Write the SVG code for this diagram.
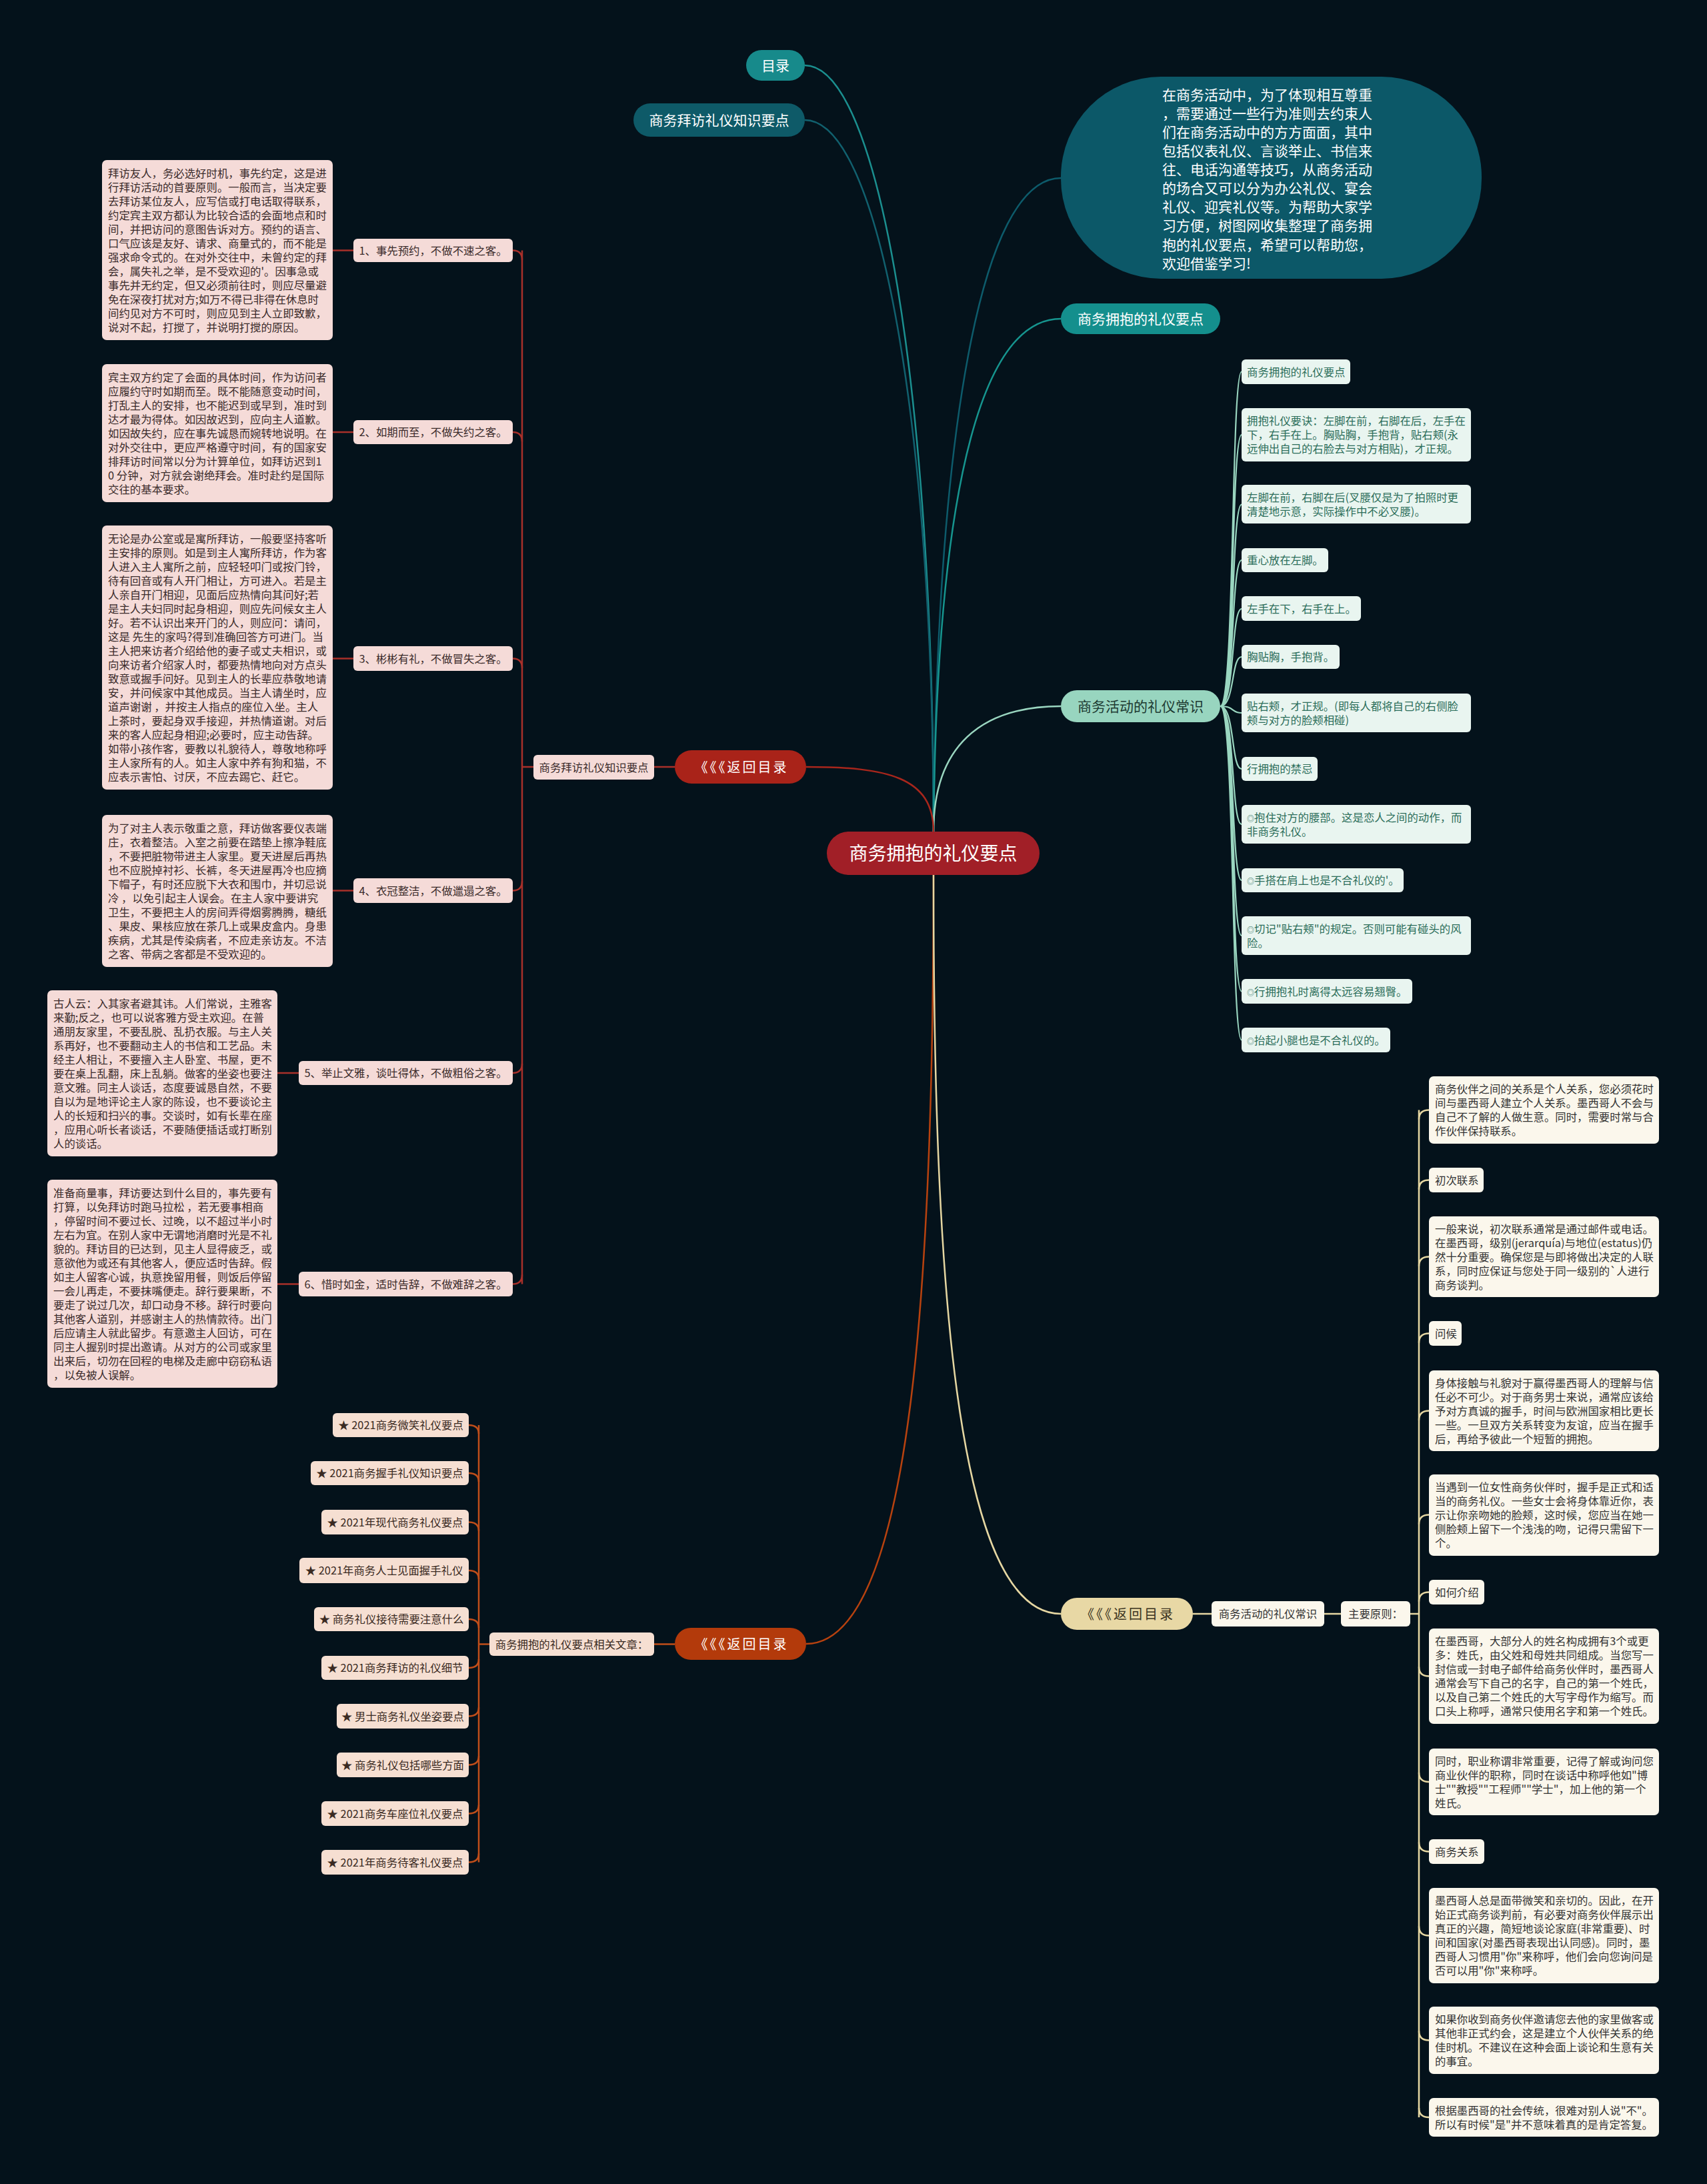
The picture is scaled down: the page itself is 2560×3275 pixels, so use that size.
<svg xmlns="http://www.w3.org/2000/svg" width="2560" height="3275" viewBox="0 0 2560 3275">
<style>
text{font-family:"Noto Sans CJK SC","Noto Sans",sans-serif}
.c{text-anchor:middle}
.pk{fill:#f5dbd8}
.pt{font-size:16.4px;fill:#3b2b2b}
.mk{fill:#e9f5f0}
.mt{font-size:16.4px;fill:#2c6e5a}
.ck{fill:#fbf7ec}
.ct{font-size:16.4px;fill:#333}
.ok{fill:#f6dfd2}
.ot{font-size:16.4px;fill:#3a2a22}
.lr{fill:none;stroke:#a8302a;stroke-width:2.5}
.lo{fill:none;stroke:#c04e1a;stroke-width:2.5}
.lm{fill:none;stroke:#9ad6c0;stroke-width:2.2}
.lc{fill:none;stroke:#e6d7a2;stroke-width:2.5}
.sm{font-size:11px}
.bk{font-size:20px;letter-spacing:3px}
</style>
<rect width="2560" height="3275" fill="#04121b"/>

<g id="connectors">
<path d="M1400,1247 C1400,600 1320,98 1207,98" fill="none" stroke="#1b8f8f" stroke-width="2.5"/>
<path d="M1400,1247 C1400,650 1320,180 1207,180" fill="none" stroke="#11606e" stroke-width="2.5"/>
<path d="M1400,1247 C1405,650 1470,267 1591,267" fill="none" stroke="#0d5b6b" stroke-width="2.5"/>
<path d="M1400,1247 C1405,700 1480,478 1591,478" fill="none" stroke="#16958f" stroke-width="2.5"/>
<path d="M1400,1247 C1400,1120 1470,1059 1591,1059" fill="none" stroke="#9ad6c0" stroke-width="2.5"/>
<path d="M1400,1247 C1400,1165 1330,1150 1209,1150" fill="none" stroke="#a8261c" stroke-width="2.5"/>
<path d="M1400,1312 C1400,1900 1370,2465 1209,2465" fill="none" stroke="#b8420f" stroke-width="2.5"/>
<path d="M1400,1312 C1400,1900 1430,2420 1591,2420" fill="none" stroke="#e6d7a2" stroke-width="2.5"/>

<path class="lr" d="M1012,1150 L981,1150 M800,1150 L783,1150 M783,375.5 L783,1925.5"/>
<path class="lr" d="M783,389.5 Q783,375.5 769,375.5 M783,662 Q783,648 769,648 M783,1001.5 Q783,987.5 769,987.5 M783,1321.5 Q783,1335.5 769,1335.5 M783,1595 Q783,1609 769,1609 M783,1911.5 Q783,1925.5 769,1925.5"/>
<path class="lr" d="M499,375.5 L530,375.5 M499,648 L530,648 M499,987.5 L530,987.5 M499,1335.5 L530,1335.5 M416,1609 L448,1609 M416,1925.5 L448,1925.5"/>

<path class="lo" d="M1012,2465.5 L981,2465.5 M734,2465.5 L718,2465.5 M718,2137 L718,2792.5"/>
<path class="lo" d="M718,2150 Q718,2137 703,2137 M718,2222 Q718,2209 703,2209 M718,2295.5 Q718,2282.5 703,2282.5 M718,2368 Q718,2355 703,2355 M718,2441 Q718,2428 703,2428 M718,2488 Q718,2501 703,2501 M718,2560.5 Q718,2573.5 703,2573.5 M718,2633.5 Q718,2646.5 703,2646.5 M718,2706.5 Q718,2719.5 703,2719.5 M718,2779.5 Q718,2792.5 703,2792.5"/>

<path class="lm" d="M1830,1059 C1852,1059 1846,557.5 1862,557.5 M1830,1059 C1852,1059 1846,652 1862,652 M1830,1059 C1852,1059 1846,756.5 1862,756.5 M1830,1059 C1852,1059 1846,840 1862,840 M1830,1059 C1852,1059 1846,913 1862,913 M1830,1059 C1852,1059 1846,985 1862,985 M1830,1059 C1852,1059 1846,1069 1862,1069 M1830,1059 C1852,1059 1846,1153 1862,1153 M1830,1059 C1852,1059 1846,1236 1862,1236 M1830,1059 C1852,1059 1846,1320 1862,1320 M1830,1059 C1852,1059 1846,1403 1862,1403 M1830,1059 C1852,1059 1846,1486.5 1862,1486.5 M1830,1059 C1852,1059 1846,1559.5 1862,1559.5"/>

<path class="lc" d="M1789,2420 L1817,2420 M1986,2420 L2011,2420 M2115,2420 L2128,2420 M2128,1664.5 L2128,3175"/>
<path class="lc" d="M2128,1678.5 Q2128,1664.5 2143,1664.5 M2128,1783.5 Q2128,1769.5 2143,1769.5 M2128,1898.5 Q2128,1884.5 2143,1884.5 M2128,2013.5 Q2128,1999.5 2143,1999.5 M2128,2129.5 Q2128,2115.5 2143,2115.5 M2128,2285.5 Q2128,2271.5 2143,2271.5 M2128,2401.5 Q2128,2387.5 2143,2387.5 M2128,2499.5 Q2128,2513.5 2143,2513.5 M2128,2658 Q2128,2672 2143,2672 M2128,2762.5 Q2128,2776.5 2143,2776.5 M2128,2888.5 Q2128,2902.5 2143,2902.5 M2128,3045.5 Q2128,3059.5 2143,3059.5 M2128,3161 Q2128,3175 2143,3175"/>
</g>

<g id="center"><rect x="1240" y="1247" width="319" height="65" rx="32.5" fill="#a11f27"/><text x="1399.5" y="1290" class="c" font-size="28" fill="#fff">商务拥抱的礼仪要点</text></g>

<g id="mulu"><rect x="1119" y="75" width="88" height="46" rx="23" fill="#178a8b"/><text x="1163" y="106" class="c" font-size="21" fill="#fff">目录</text></g>
<g id="top-baifang"><rect x="950" y="155" width="257" height="50" rx="25" fill="#0e5a68"/><text x="1078.5" y="188" class="c" font-size="21" fill="#fff">商务拜访礼仪知识要点</text></g>
<g id="intro"><rect x="1591" y="115" width="631" height="303" rx="150" fill="#0c5868"/>
<text x="1743" y="149.7" font-size="21" fill="#fff">在商务活动中，为了体现相互尊重<tspan x="1743" dy="28.1">，需要通过一些行为准则去约束人</tspan><tspan x="1743" dy="28.1">们在商务活动中的方方面面，其中</tspan><tspan x="1743" dy="28.1">包括仪表礼仪、言谈举止、书信来</tspan><tspan x="1743" dy="28.1">往、电话沟通等技巧，从商务活动</tspan><tspan x="1743" dy="28.1">的场合又可以分为办公礼仪、宴会</tspan><tspan x="1743" dy="28.1">礼仪、迎宾礼仪等。为帮助大家学</tspan><tspan x="1743" dy="28.1">习方便，树图网收集整理了商务拥</tspan><tspan x="1743" dy="28.1">抱的礼仪要点，希望可以帮助您，</tspan><tspan x="1743" dy="28.1">欢迎借鉴学习!</tspan></text></g>
<g id="hug-l1"><rect x="1591" y="455" width="239" height="46" rx="23" fill="#148f8d"/><text x="1710.5" y="486" class="c" font-size="21" fill="#fff">商务拥抱的礼仪要点</text></g>
<g id="changshi"><rect x="1591" y="1035" width="239" height="48" rx="24" fill="#98d5bf"/><text x="1710.5" y="1067" class="c" font-size="21" fill="#1d3a32">商务活动的礼仪常识</text></g>

<g id="back-red"><rect x="1012" y="1125" width="197" height="50" rx="25" fill="#a92319"/><text x="1112" y="1157.6" class="c bk" fill="#fff">《《《返回目录</text></g>
<g id="back-orange"><rect x="1012" y="2441" width="197" height="48" rx="24" fill="#b33a0b"/><text x="1112" y="2472.6" class="c bk" fill="#fff">《《《返回目录</text></g>
<g id="back-yellow"><rect x="1591" y="2396" width="198" height="48" rx="24" fill="#e8d8a5"/><text x="1691.5" y="2427.6" class="c bk" fill="#3a3320">《《《返回目录</text></g>

<g id="baifang-small"><rect class="pk" x="800" y="1132" width="181" height="37" rx="6"/><text class="pt c" x="890.5" y="1156.7">商务拜访礼仪知识要点</text></g>
<g id="label1"><rect class="pk" x="530" y="358" width="239" height="35" rx="6"/><text class="pt c" x="649.5" y="381.7">1、事先预约，不做不速之客。</text></g>
<g id="label2"><rect class="pk" x="530" y="630" width="239" height="36" rx="6"/><text class="pt c" x="649.5" y="654.2">2、如期而至，不做失约之客。</text></g>
<g id="label3"><rect class="pk" x="530" y="969" width="239" height="37" rx="6"/><text class="pt c" x="649.5" y="993.7">3、彬彬有礼，不做冒失之客。</text></g>
<g id="label4"><rect class="pk" x="530" y="1317" width="239" height="37" rx="6"/><text class="pt c" x="649.5" y="1341.7">4、衣冠整洁，不做邋遢之客。</text></g>
<g id="label5"><rect class="pk" x="448" y="1591" width="321" height="36" rx="6"/><text class="pt c" x="608.5" y="1615.2">5、举止文雅，谈吐得体，不做粗俗之客。</text></g>
<g id="label6"><rect class="pk" x="448" y="1907" width="321" height="37" rx="6"/><text class="pt c" x="608.5" y="1931.7">6、惜时如金，适时告辞，不做难辞之客。</text></g>

<g id="block1"><rect class="pk" x="153" y="240" width="346" height="270" rx="7"/><text class="pt" x="162" y="265.5">拜访友人，务必选好时机，事先约定，这是进<tspan x="162" dy="21">行拜访活动的首要原则。一般而言，当决定要</tspan><tspan x="162" dy="21">去拜访某位友人，应写信或打电话取得联系，</tspan><tspan x="162" dy="21">约定宾主双方都认为比较合适的会面地点和时</tspan><tspan x="162" dy="21">间，并把访问的意图告诉对方。预约的语言、</tspan><tspan x="162" dy="21">口气应该是友好、请求、商量式的，而不能是</tspan><tspan x="162" dy="21">强求命令式的。在对外交往中，未曾约定的拜</tspan><tspan x="162" dy="21">会，属失礼之举，是不受欢迎的'。因事急或</tspan><tspan x="162" dy="21">事先并无约定，但又必须前往时，则应尽量避</tspan><tspan x="162" dy="21">免在深夜打扰对方;如万不得已非得在休息时</tspan><tspan x="162" dy="21">间约见对方不可时，则应见到主人立即致歉，</tspan><tspan x="162" dy="21">说对不起，打搅了，并说明打搅的原因。</tspan></text></g>
<g id="block2"><rect class="pk" x="153" y="546" width="346" height="207" rx="7"/><text class="pt" x="162" y="571.5">宾主双方约定了会面的具体时间，作为访问者<tspan x="162" dy="21">应履约守时如期而至。既不能随意变动时间，</tspan><tspan x="162" dy="21">打乱主人的安排，也不能迟到或早到，准时到</tspan><tspan x="162" dy="21">达才最为得体。如因故迟到，应向主人道歉。</tspan><tspan x="162" dy="21">如因故失约，应在事先诚恳而婉转地说明。在</tspan><tspan x="162" dy="21">对外交往中，更应严格遵守时间，有的国家安</tspan><tspan x="162" dy="21">排拜访时间常以分为计算单位，如拜访迟到1</tspan><tspan x="162" dy="21">0 分钟，对方就会谢绝拜会。准时赴约是国际</tspan><tspan x="162" dy="21">交往的基本要求。</tspan></text></g>
<g id="block3"><rect class="pk" x="153" y="788" width="346" height="396" rx="7"/><text class="pt" x="162" y="813.5">无论是办公室或是寓所拜访，一般要坚持客听<tspan x="162" dy="21">主安排的原则。如是到主人寓所拜访，作为客</tspan><tspan x="162" dy="21">人进入主人寓所之前，应轻轻叩门或按门铃，</tspan><tspan x="162" dy="21">待有回音或有人开门相让，方可进入。若是主</tspan><tspan x="162" dy="21">人亲自开门相迎，见面后应热情向其问好;若</tspan><tspan x="162" dy="21">是主人夫妇同时起身相迎，则应先问候女主人</tspan><tspan x="162" dy="21">好。若不认识出来开门的人，则应问：请问，</tspan><tspan x="162" dy="21">这是 先生的家吗?得到准确回答方可进门。当</tspan><tspan x="162" dy="21">主人把来访者介绍给他的妻子或丈夫相识，或</tspan><tspan x="162" dy="21">向来访者介绍家人时，都要热情地向对方点头</tspan><tspan x="162" dy="21">致意或握手问好。见到主人的长辈应恭敬地请</tspan><tspan x="162" dy="21">安，并问候家中其他成员。当主人请坐时，应</tspan><tspan x="162" dy="21">道声谢谢 ，并按主人指点的座位入坐。主人</tspan><tspan x="162" dy="21">上茶时，要起身双手接迎，并热情道谢。对后</tspan><tspan x="162" dy="21">来的客人应起身相迎;必要时，应主动告辞。</tspan><tspan x="162" dy="21">如带小孩作客，要教以礼貌待人，尊敬地称呼</tspan><tspan x="162" dy="21">主人家所有的人。如主人家中养有狗和猫，不</tspan><tspan x="162" dy="21">应表示害怕、讨厌，不应去踢它、赶它。</tspan></text></g>
<g id="block4"><rect class="pk" x="153" y="1222" width="346" height="228" rx="7"/><text class="pt" x="162" y="1247.5">为了对主人表示敬重之意，拜访做客要仪表端<tspan x="162" dy="21">庄，衣着整洁。入室之前要在踏垫上擦净鞋底</tspan><tspan x="162" dy="21">，不要把脏物带进主人家里。夏天进屋后再热</tspan><tspan x="162" dy="21">也不应脱掉衬衫、长裤，冬天进屋再冷也应摘</tspan><tspan x="162" dy="21">下帽子，有时还应脱下大衣和围巾，并切忌说</tspan><tspan x="162" dy="21">冷 ，以免引起主人误会。在主人家中要讲究</tspan><tspan x="162" dy="21">卫生，不要把主人的房间弄得烟雾腾腾，糖纸</tspan><tspan x="162" dy="21">、果皮、果核应放在茶几上或果皮盒内。身患</tspan><tspan x="162" dy="21">疾病，尤其是传染病者，不应走亲访友。不洁</tspan><tspan x="162" dy="21">之客、带病之客都是不受欢迎的。</tspan></text></g>
<g id="block5"><rect class="pk" x="71" y="1485" width="345" height="249" rx="7"/><text class="pt" x="80" y="1510.5">古人云：入其家者避其讳。人们常说，主雅客<tspan x="80" dy="21">来勤;反之，也可以说客雅方受主欢迎。在普</tspan><tspan x="80" dy="21">通朋友家里，不要乱脱、乱扔衣服。与主人关</tspan><tspan x="80" dy="21">系再好，也不要翻动主人的书信和工艺品。未</tspan><tspan x="80" dy="21">经主人相让，不要擅入主人卧室、书屋，更不</tspan><tspan x="80" dy="21">要在桌上乱翻，床上乱躺。做客的坐姿也要注</tspan><tspan x="80" dy="21">意文雅。同主人谈话，态度要诚恳自然，不要</tspan><tspan x="80" dy="21">自以为是地评论主人家的陈设，也不要谈论主</tspan><tspan x="80" dy="21">人的长短和扫兴的事。交谈时，如有长辈在座</tspan><tspan x="80" dy="21">，应用心听长者谈话，不要随便插话或打断别</tspan><tspan x="80" dy="21">人的谈话。</tspan></text></g>
<g id="block6"><rect class="pk" x="71" y="1769" width="345" height="312" rx="7"/><text class="pt" x="80" y="1794.5">准备商量事，拜访要达到什么目的，事先要有<tspan x="80" dy="21">打算，以免拜访时跑马拉松 ，若无要事相商</tspan><tspan x="80" dy="21">，停留时间不要过长、过晚，以不超过半小时</tspan><tspan x="80" dy="21">左右为宜。在别人家中无谓地消磨时光是不礼</tspan><tspan x="80" dy="21">貌的。拜访目的已达到，见主人显得疲乏，或</tspan><tspan x="80" dy="21">意欲他为或还有其他客人，便应适时告辞。假</tspan><tspan x="80" dy="21">如主人留客心诚，执意挽留用餐，则饭后停留</tspan><tspan x="80" dy="21">一会儿再走，不要抹嘴便走。辞行要果断，不</tspan><tspan x="80" dy="21">要走了说过几次，却口动身不移。辞行时要向</tspan><tspan x="80" dy="21">其他客人道别，并感谢主人的热情款待。出门</tspan><tspan x="80" dy="21">后应请主人就此留步。有意邀主人回访，可在</tspan><tspan x="80" dy="21">同主人握别时提出邀请。从对方的公司或家里</tspan><tspan x="80" dy="21">出来后，切勿在回程的电梯及走廊中窃窃私语</tspan><tspan x="80" dy="21">，以免被人误解。</tspan></text></g>

<g id="related"><rect class="ok" x="734" y="2448" width="247" height="35" rx="6"/><text class="ot c" x="857.5" y="2471.7">商务拥抱的礼仪要点相关文章：</text></g>
<g id="rel1"><rect class="ok" x="499" y="2119" width="204" height="36" rx="6"/><text class="ot c" x="601" y="2143.2">★ 2021商务微笑礼仪要点</text></g>
<g id="rel2"><rect class="ok" x="466" y="2191" width="237" height="36" rx="6"/><text class="ot c" x="584.5" y="2215.2">★ 2021商务握手礼仪知识要点</text></g>
<g id="rel3"><rect class="ok" x="482" y="2264" width="221" height="37" rx="6"/><text class="ot c" x="592.5" y="2288.7">★ 2021年现代商务礼仪要点</text></g>
<g id="rel4"><rect class="ok" x="449" y="2336" width="254" height="38" rx="6"/><text class="ot c" x="576" y="2361.2">★ 2021年商务人士见面握手礼仪</text></g>
<g id="rel5"><rect class="ok" x="471" y="2410" width="232" height="36" rx="6"/><text class="ot c" x="587" y="2434.2">★ 商务礼仪接待需要注意什么</text></g>
<g id="rel6"><rect class="ok" x="482" y="2483" width="221" height="36" rx="6"/><text class="ot c" x="592.5" y="2507.2">★ 2021商务拜访的礼仪细节</text></g>
<g id="rel7"><rect class="ok" x="505" y="2555" width="198" height="37" rx="6"/><text class="ot c" x="604" y="2579.7">★ 男士商务礼仪坐姿要点</text></g>
<g id="rel8"><rect class="ok" x="505" y="2628" width="198" height="37" rx="6"/><text class="ot c" x="604" y="2652.7">★ 商务礼仪包括哪些方面</text></g>
<g id="rel9"><rect class="ok" x="482" y="2701" width="221" height="37" rx="6"/><text class="ot c" x="592.5" y="2725.7">★ 2021商务车座位礼仪要点</text></g>
<g id="rel10"><rect class="ok" x="482" y="2774" width="221" height="37" rx="6"/><text class="ot c" x="592.5" y="2798.7">★ 2021年商务待客礼仪要点</text></g>

<g id="hug1"><rect class="mk" x="1862" y="539" width="163" height="37" rx="6"/><text class="mt" x="1870" y="563.7">商务拥抱的礼仪要点</text></g>
<g id="hug2"><rect class="mk" x="1862" y="612" width="344" height="80" rx="6"/><text class="mt" x="1870" y="636.5">拥抱礼仪要诀：左脚在前，右脚在后，左手在<tspan x="1870" dy="21">下，右手在上。胸贴胸，手抱背，贴右颊(永</tspan><tspan x="1870" dy="21">远伸出自己的右脸去与对方相贴)，才正规。</tspan></text></g>
<g id="hug3"><rect class="mk" x="1862" y="727" width="344" height="58" rx="6"/><text class="mt" x="1870" y="751.5">左脚在前，右脚在后(叉腰仅是为了拍照时更<tspan x="1870" dy="21">清楚地示意，实际操作中不必叉腰)。</tspan></text></g>
<g id="hug4"><rect class="mk" x="1862" y="822" width="130" height="36" rx="6"/><text class="mt" x="1870" y="846.2">重心放在左脚。</text></g>
<g id="hug5"><rect class="mk" x="1862" y="894" width="179" height="37" rx="6"/><text class="mt" x="1870" y="918.7">左手在下，右手在上。</text></g>
<g id="hug6"><rect class="mk" x="1862" y="967" width="147" height="36" rx="6"/><text class="mt" x="1870" y="991.2">胸贴胸，手抱背。</text></g>
<g id="hug7"><rect class="mk" x="1862" y="1040" width="344" height="58" rx="6"/><text class="mt" x="1870" y="1064.5">贴右颊，才正规。(即每人都将自己的右侧脸<tspan x="1870" dy="21">颊与对方的脸颊相碰)</tspan></text></g>
<g id="hug8"><rect class="mk" x="1862" y="1135" width="114" height="36" rx="6"/><text class="mt" x="1870" y="1159.2">行拥抱的禁忌</text></g>
<g id="hug9"><rect class="mk" x="1862" y="1207" width="344" height="58" rx="6"/><text class="mt" x="1870" y="1231.5"><tspan class="sm">◎</tspan>抱住对方的腰部。这是恋人之间的动作，而<tspan x="1870" dy="21">非商务礼仪。</tspan></text></g>
<g id="hug10"><rect class="mk" x="1862" y="1302" width="243" height="36" rx="6"/><text class="mt" x="1870" y="1326.2"><tspan class="sm">◎</tspan>手搭在肩上也是不合礼仪的'。</text></g>
<g id="hug11"><rect class="mk" x="1862" y="1374" width="344" height="58" rx="6"/><text class="mt" x="1870" y="1398.5"><tspan class="sm">◎</tspan>切记"贴右颊"的规定。否则可能有碰头的风<tspan x="1870" dy="21">险。</tspan></text></g>
<g id="hug12"><rect class="mk" x="1862" y="1468" width="256" height="37" rx="6"/><text class="mt" x="1870" y="1492.7"><tspan class="sm">◎</tspan>行拥抱礼时离得太远容易翘臀。</text></g>
<g id="hug13"><rect class="mk" x="1862" y="1541" width="223" height="37" rx="6"/><text class="mt" x="1870" y="1565.7"><tspan class="sm">◎</tspan>抬起小腿也是不合礼仪的。</text></g>

<g id="cs-small"><rect class="ck" x="1817" y="2401" width="169" height="38" rx="6"/><text class="ct c" x="1901.5" y="2426.2">商务活动的礼仪常识</text></g>
<g id="principle"><rect class="ck" x="2011" y="2401" width="104" height="38" rx="6"/><text class="ct c" x="2063" y="2426.2">主要原则：</text></g>

<g id="mx1"><rect class="ck" x="2143" y="1614" width="345" height="101" rx="7"/><text class="ct" x="2152" y="1639">商务伙伴之间的关系是个人关系，您必须花时<tspan x="2152" dy="21">间与墨西哥人建立个人关系。墨西哥人不会与</tspan><tspan x="2152" dy="21">自己不了解的人做生意。同时，需要时常与合</tspan><tspan x="2152" dy="21">作伙伴保持联系。</tspan></text></g>
<g id="mx2"><rect class="ck" x="2143" y="1751" width="82" height="37" rx="6"/><text class="ct" x="2152" y="1775.7">初次联系</text></g>
<g id="mx3"><rect class="ck" x="2143" y="1824" width="345" height="121" rx="7"/><text class="ct" x="2152" y="1849">一般来说，初次联系通常是通过邮件或电话。<tspan x="2152" dy="21">在墨西哥，级别(jerarquía)与地位(estatus)仍</tspan><tspan x="2152" dy="21">然十分重要。确保您是与即将做出决定的人联</tspan><tspan x="2152" dy="21">系，同时应保证与您处于同一级别的`人进行</tspan><tspan x="2152" dy="21">商务谈判。</tspan></text></g>
<g id="mx4"><rect class="ck" x="2143" y="1981" width="49" height="37" rx="6"/><text class="ct" x="2152" y="2005.7">问候</text></g>
<g id="mx5"><rect class="ck" x="2143" y="2055" width="345" height="121" rx="7"/><text class="ct" x="2152" y="2080">身体接触与礼貌对于赢得墨西哥人的理解与信<tspan x="2152" dy="21">任必不可少。对于商务男士来说，通常应该给</tspan><tspan x="2152" dy="21">予对方真诚的握手，时间与欧洲国家相比更长</tspan><tspan x="2152" dy="21">一些。一旦双方关系转变为友谊，应当在握手</tspan><tspan x="2152" dy="21">后，再给予彼此一个短暂的拥抱。</tspan></text></g>
<g id="mx6"><rect class="ck" x="2143" y="2211" width="345" height="122" rx="7"/><text class="ct" x="2152" y="2236">当遇到一位女性商务伙伴时，握手是正式和适<tspan x="2152" dy="21">当的商务礼仪。一些女士会将身体靠近你，表</tspan><tspan x="2152" dy="21">示让你亲吻她的脸颊，这时候，您应当在她一</tspan><tspan x="2152" dy="21">侧脸颊上留下一个浅浅的吻，记得只需留下一</tspan><tspan x="2152" dy="21">个。</tspan></text></g>
<g id="mx7"><rect class="ck" x="2143" y="2369" width="83" height="37" rx="6"/><text class="ct" x="2152" y="2393.7">如何介绍</text></g>
<g id="mx8"><rect class="ck" x="2143" y="2442" width="345" height="143" rx="7"/><text class="ct" x="2152" y="2467">在墨西哥，大部分人的姓名构成拥有3个或更<tspan x="2152" dy="21">多：姓氏，由父姓和母姓共同组成。当您写一</tspan><tspan x="2152" dy="21">封信或一封电子邮件给商务伙伴时，墨西哥人</tspan><tspan x="2152" dy="21">通常会写下自己的名字，自己的第一个姓氏，</tspan><tspan x="2152" dy="21">以及自己第二个姓氏的大写字母作为缩写。而</tspan><tspan x="2152" dy="21">口头上称呼，通常只使用名字和第一个姓氏。</tspan></text></g>
<g id="mx9"><rect class="ck" x="2143" y="2622" width="345" height="100" rx="7"/><text class="ct" x="2152" y="2647">同时，职业称谓非常重要，记得了解或询问您<tspan x="2152" dy="21">商业伙伴的职称，同时在谈话中称呼他如"博</tspan><tspan x="2152" dy="21">士""教授""工程师""学士"，加上他的第一个</tspan><tspan x="2152" dy="21">姓氏。</tspan></text></g>
<g id="mx10"><rect class="ck" x="2143" y="2758" width="83" height="37" rx="6"/><text class="ct" x="2152" y="2782.7">商务关系</text></g>
<g id="mx11"><rect class="ck" x="2143" y="2831" width="345" height="143" rx="7"/><text class="ct" x="2152" y="2856">墨西哥人总是面带微笑和亲切的。因此，在开<tspan x="2152" dy="21">始正式商务谈判前，有必要对商务伙伴展示出</tspan><tspan x="2152" dy="21">真正的兴趣，简短地谈论家庭(非常重要)、时</tspan><tspan x="2152" dy="21">间和国家(对墨西哥表现出认同感)。同时，墨</tspan><tspan x="2152" dy="21">西哥人习惯用"你"来称呼，他们会向您询问是</tspan><tspan x="2152" dy="21">否可以用"你"来称呼。</tspan></text></g>
<g id="mx12"><rect class="ck" x="2143" y="3009" width="345" height="101" rx="7"/><text class="ct" x="2152" y="3034">如果你收到商务伙伴邀请您去他的家里做客或<tspan x="2152" dy="21">其他非正式约会，这是建立个人伙伴关系的绝</tspan><tspan x="2152" dy="21">佳时机。不建议在这种会面上谈论和生意有关</tspan><tspan x="2152" dy="21">的事宜。</tspan></text></g>
<g id="mx13"><rect class="ck" x="2143" y="3146" width="345" height="58" rx="7"/><text class="ct" x="2152" y="3171">根据墨西哥的社会传统，很难对别人说"不"。<tspan x="2152" dy="21">所以有时候"是"并不意味着真的是肯定答复。</tspan></text></g>
</svg>
